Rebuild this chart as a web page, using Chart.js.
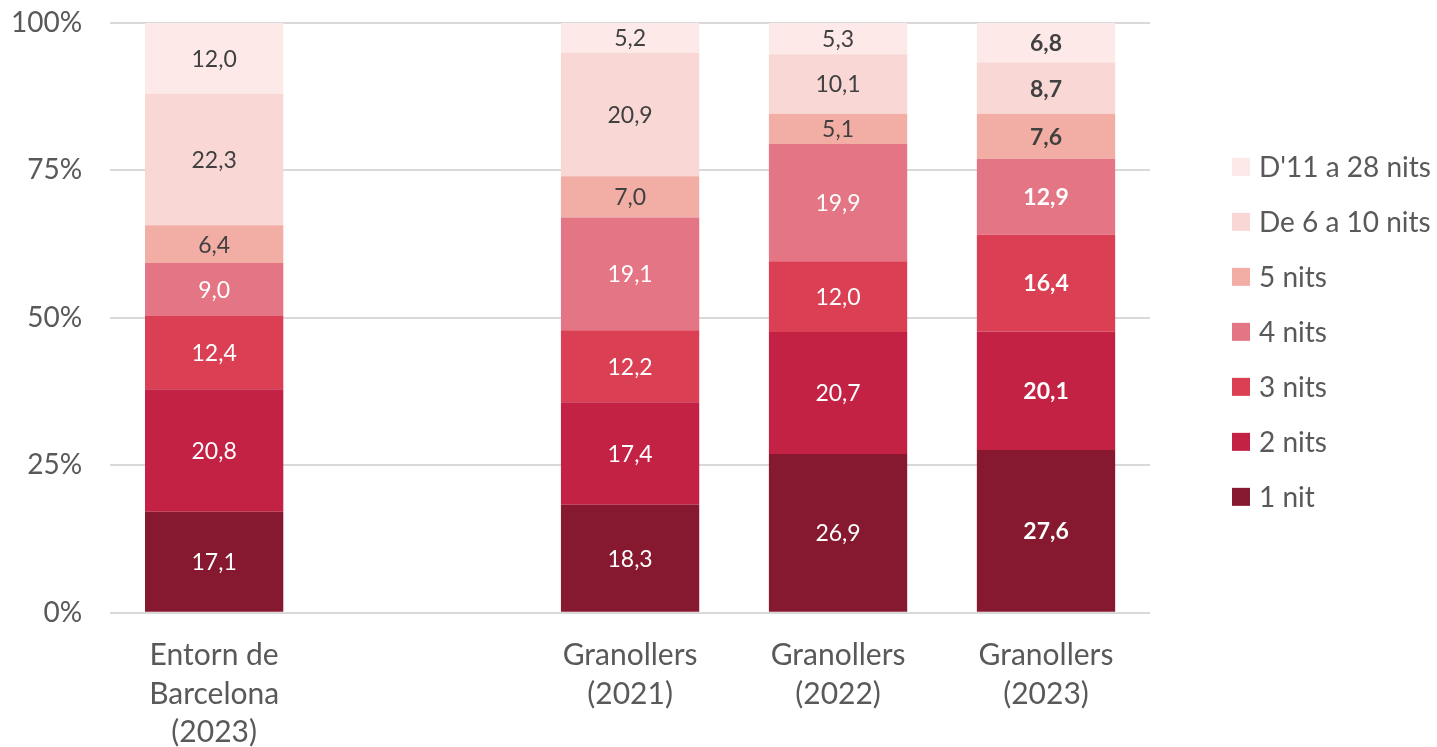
<!DOCTYPE html>
<html>
<head>
<meta charset="utf-8">
<script src="https://cdn.jsdelivr.net/npm/chart.js@4"></script>
<style>
  html, body { margin: 0; padding: 0; background: #fff; }
  #wrap { width: 1437px; height: 747px; }
</style>
</head>
<body>
<div id="wrap"><canvas id="chart" width="1437" height="747"></canvas></div>
<script>
// categories (the empty one keeps the gap between the two groups)
const categories = [
  ['Entorn de', 'Barcelona', '(2023)'],
  '',
  ['Granollers', '(2021)'],
  ['Granollers', '(2022)'],
  ['Granollers', '(2023)']
];
const seriesNames = ['1 nit', '2 nits', '3 nits', '4 nits', '5 nits', 'De 6 a 10 nits', "D'11 a 28 nits"];
const seriesColors = ['#861930', '#C32245', '#DB3F53', '#E47584', '#F2AEA5', '#F8D7D4', '#FDE9E8'];
const labelColors = ['#fff', '#fff', '#fff', '#fff', '#404040', '#404040', '#404040'];

const nit1   = [17.1, null, 18.3, 26.9, 27.6];
const nits2  = [20.8, null, 17.4, 20.7, 20.1];
const nits3  = [12.4, null, 12.2, 12.0, 16.4];
const nits4  = [9.0,  null, 19.1, 19.9, 12.9];
const nits5  = [6.4,  null, 7.0,  5.1,  7.6];
const nits6a10  = [22.3, null, 20.9, 10.1, 8.7];
const nits11a28 = [12.0, null, 5.2,  5.3,  6.8];
const yTicks = [0, 25, 50, 75, 100];

const seriesValues = [nit1, nits2, nits3, nits4, nits5, nits6a10, nits11a28];
const boldCategory = 4;
const FONT = 'Lato, "Open Sans", sans-serif';

// value labels in the middle of each segment
const segmentLabels = {
  id: 'segmentLabels',
  afterDatasetsDraw(chart) {
    const ctx = chart.ctx;
    ctx.save();
    ctx.textAlign = 'center';
    ctx.textBaseline = 'middle';
    chart.data.datasets.forEach((ds, di) => {
      const meta = chart.getDatasetMeta(di);
      meta.data.forEach((bar, i) => {
        const v = ds.data[i];
        if (v == null) return;
        const top = Math.max(bar.y, chart.chartArea.top);
        const y = (top + bar.base) / 2;
        ctx.font = (i === boldCategory ? 'bold ' : '') + '23px ' + FONT;
        ctx.fillStyle = labelColors[di];
        ctx.fillText(v.toFixed(1).replace('.', ','), bar.x, y + 1);
      });
    });
    ctx.restore();
  }
};

// legend on the right, reversed order
const sideLegend = {
  id: 'sideLegend',
  afterDraw(chart) {
    const ctx = chart.ctx;
    const area = chart.chartArea;
    const x = area.right + 82;
    const step = 55;
    const n = chart.data.datasets.length;
    let y = (area.top + area.bottom) / 2 + 14 - step * (n - 1) / 2;
    ctx.save();
    ctx.font = '28px ' + FONT;
    ctx.textBaseline = 'middle';
    ctx.textAlign = 'left';
    for (let di = n - 1; di >= 0; di--) {
      const ds = chart.data.datasets[di];
      ctx.fillStyle = ds.backgroundColor;
      ctx.fillRect(x, y - 9, 18, 18);
      ctx.fillStyle = '#595959';
      ctx.fillText(ds.label, x + 27, y + 1);
      y += step;
    }
    ctx.restore();
  }
};

new Chart(document.getElementById('chart'), {
  type: 'bar',
  data: {
    labels: categories,
    datasets: seriesNames.map((name, i) => ({
      label: name,
      data: seriesValues[i],
      backgroundColor: seriesColors[i],
      borderWidth: 0,
      categoryPercentage: 1,
      barPercentage: 0.665
    }))
  },
  options: {
    responsive: false,
    devicePixelRatio: 1,
    animation: false,
    layout: { padding: { top: 23, right: 287, bottom: -28, left: -17 } },
    plugins: {
      legend: { display: false },
      tooltip: { enabled: false }
    },
    scales: {
      x: {
        stacked: true,
        grid: { display: false, drawTicks: false },
        border: { display: false },
        ticks: {
          color: '#595959',
          font: { family: FONT, size: 30, lineHeight: 1.27 },
          padding: 24,
          maxRotation: 0,
          autoSkip: false
        }
      },
      y: {
        stacked: true,
        min: 0,
        max: 100,
        afterBuildTicks: (scale) => { scale.ticks = yTicks.map(v => ({ value: v })); },
        afterFit: (scale) => { scale.paddingTop = 0; scale.paddingBottom = 0; },
        grid: { color: '#d9d9d9', lineWidth: 2, drawTicks: false },
        border: { display: false },
        ticks: {
          color: '#595959',
          font: { family: FONT, size: 28 },
          padding: 28,
          callback: (v) => v + '%'
        }
      }
    }
  },
  plugins: [segmentLabels, sideLegend]
});
</script>
</body>
</html>
